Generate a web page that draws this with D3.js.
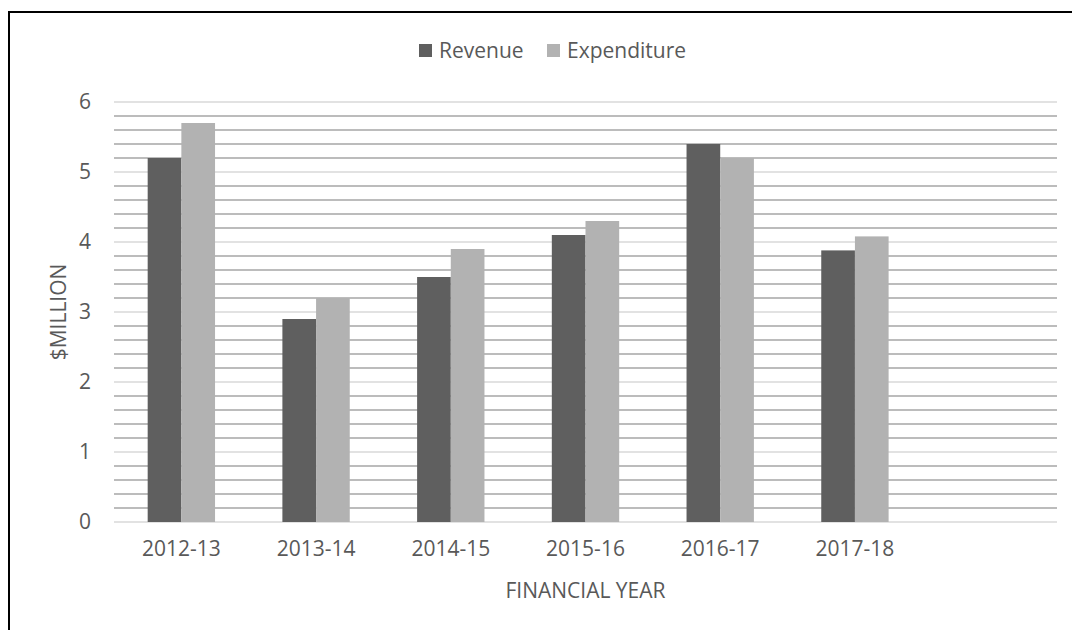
<!DOCTYPE html>
<html>
<head>
<meta charset="utf-8">
<script src="https://cdn.jsdelivr.net/npm/d3@7"></script>
<style>
  body { margin: 0; background: #fff; }
  text { font-family: "Open Sans", sans-serif; fill: #595959; }
</style>
</head>
<body>
<div id="vizDiv"></div>
<script>
var width = 1072
var height = 630

// chart data
var categories = ["2012-13", "2013-14", "2014-15", "2015-16", "2016-17", "2017-18", ""]
var revenue = [5.2, 2.9, 3.5, 4.1, 5.4, 3.88]
var expenditure = [5.7, 3.2, 3.9, 4.3, 5.2, 4.08]
var seriesNames = ["Revenue", "Expenditure"]
var seriesColors = ["#5f5f5f", "#b2b2b2"]
var yTicks = [0, 1, 2, 3, 4, 5, 6]

var margin = {left: 114, right: 15, top: 102, bottom: 108}
var fontSize = "21px"

var svg = d3.select("#vizDiv")
  .append("svg")
  .attr("width", width)
  .attr("height", height)

// outer frame (only left and top edges are inside the picture)
svg.append("rect")
  .attr("x", 9)
  .attr("y", 12)
  .attr("width", width + 20)
  .attr("height", height + 20)
  .attr("fill", "none")
  .attr("stroke", "#000")
  .attr("stroke-width", 2)

var x = d3.scaleBand()
  .domain(categories)
  .range([margin.left, width - margin.right])

var y = d3.scaleLinear()
  .domain([0, 6])
  .range([height - margin.bottom, margin.top])

// minor gridlines every 0.2
var minor = d3.range(0, 30).map(function(i) { return i * 0.2 }).filter(function(v) {
  return Math.abs(v - Math.round(v)) > 0.01
})
svg.append("g")
  .selectAll("line")
  .data(minor)
  .join("line")
  .attr("x1", margin.left)
  .attr("x2", width - margin.right)
  .attr("y1", function(d) { return y(d) })
  .attr("y2", function(d) { return y(d) })
  .attr("stroke", "#a6a6a6")
  .attr("stroke-width", 1.6)

// major gridlines
svg.append("g")
  .selectAll("line")
  .data(yTicks)
  .join("line")
  .attr("x1", margin.left)
  .attr("x2", width - margin.right)
  .attr("y1", function(d) { return y(d) })
  .attr("y2", function(d) { return y(d) })
  .attr("stroke", "#d9d9d9")
  .attr("stroke-width", 1.6)

// bars
var inner = d3.scaleBand()
  .domain([0, 1])
  .range([x.bandwidth() * 0.25, x.bandwidth() * 0.75])

var seriesData = [revenue, expenditure]
seriesData.forEach(function(vals, s) {
  svg.append("g")
    .selectAll("rect")
    .data(vals)
    .join("rect")
    .attr("x", function(d, i) { return x(categories[i]) + inner(s) })
    .attr("width", inner.bandwidth())
    .attr("y", function(d) { return y(d) })
    .attr("height", function(d) { return y(0) - y(d) })
    .attr("fill", seriesColors[s])
})

// y axis labels
var yAxis = svg.append("g")
  .attr("transform", "translate(" + (margin.left - 23) + ",0)")
  .call(d3.axisLeft(y).tickValues(yTicks).tickFormat(d3.format("d")).tickSize(0).tickPadding(0))
yAxis.select(".domain").remove()
yAxis.selectAll("text")
  .style("font-family", '"Open Sans", sans-serif')
  .style("font-size", fontSize)
  .attr("fill", "#595959")

// x axis labels
var xAxis = svg.append("g")
  .attr("transform", "translate(0," + y(0) + ")")
  .call(d3.axisBottom(x).tickSize(0).tickPadding(19))
xAxis.select(".domain").remove()
xAxis.selectAll("text")
  .style("font-family", '"Open Sans", sans-serif')
  .style("font-size", fontSize)
  .attr("fill", "#595959")

// axis titles
svg.append("text")
  .attr("x", (margin.left + width - margin.right) / 2)
  .attr("y", 598)
  .attr("text-anchor", "middle")
  .style("font-size", fontSize)
  .text("FINANCIAL YEAR")

svg.append("text")
  .attr("transform", "translate(66," + ((y(0) + y(6)) / 2) + ") rotate(-90)")
  .attr("text-anchor", "middle")
  .style("font-size", fontSize)
  .text("$MILLION")

// legend
var legendX = [419, 547]
seriesNames.forEach(function(name, s) {
  svg.append("rect")
    .attr("x", legendX[s])
    .attr("y", 44)
    .attr("width", 13)
    .attr("height", 13)
    .attr("fill", seriesColors[s])
  svg.append("text")
    .attr("x", legendX[s] + 20)
    .attr("y", 58)
    .style("font-size", fontSize)
    .text(name)
})
</script>
</body>
</html>
